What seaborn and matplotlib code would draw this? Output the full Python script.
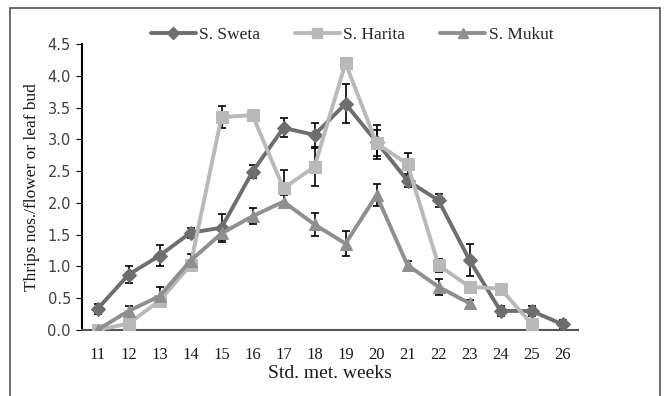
import matplotlib
matplotlib.use("Agg")
import matplotlib.pyplot as plt
import seaborn as sns
import pandas as pd
from matplotlib.lines import Line2D

weeks = list(range(11, 27))
sweta = [0.33, 0.87, 1.17, 1.53, 1.61, 2.49, 3.18, 3.07, 3.56, 2.96, 2.35, 2.04, 1.10, 0.30, 0.30, 0.09]
sweta_err = [0.08, 0.13, 0.16, 0.08, 0.22, 0.10, 0.15, 0.19, 0.31, 0.27, 0.10, 0.10, 0.25, 0.08, 0.08, 0.07]
harita_weeks = list(range(11, 26))
harita = [0.0, 0.10, 0.46, 1.02, 3.35, 3.38, 2.23, 2.57, 4.20, 2.94, 2.61, 1.02, 0.68, 0.65, 0.10]
harita_err = [0.0, 0.0, 0.0, 0.0, 0.17, 0.05, 0.29, 0.30, 0.0, 0.20, 0.18, 0.10, 0.0, 0.0, 0.0]
mukut_weeks = list(range(11, 24))
mukut = [0.0, 0.30, 0.53, 1.09, 1.52, 1.79, 2.02, 1.66, 1.36, 2.12, 1.02, 0.68, 0.42]
mukut_err = [0.0, 0.08, 0.14, 0.10, 0.10, 0.13, 0.10, 0.18, 0.20, 0.17, 0.07, 0.13, 0.05]

series = [
    ("S. Sweta", weeks, sweta, sweta_err, "#6e6e6e", "D", 7),
    ("S. Harita", harita_weeks, harita, harita_err, "#b9b9b9", "s", 9),
    ("S. Mukut", mukut_weeks, mukut, mukut_err, "#8f8f8f", "^", 9),
]

sns.set_theme(style="white")
plt.rcParams['font.family'] = ['Liberation Serif', 'DejaVu Serif']

fig = plt.figure(figsize=(6.64, 3.96), dpi=100)
ax = fig.add_axes([82/664, 1-330/396, (578-82)/664, (330-44)/396])

for name, xs, ys, errs, color, marker, ms in series:
    ax.errorbar(xs, ys, yerr=errs, fmt='none', ecolor='black', elinewidth=1.2,
                capsize=3, capthick=1.2, zorder=2)

for i, (name, xs, ys, errs, color, marker, ms) in enumerate(series):
    df = pd.DataFrame({"week": xs, "val": ys})
    sns.lineplot(data=df, x="week", y="val", ax=ax, color=color, linewidth=2.8,
                 marker=marker, markersize=ms, markeredgecolor=color,
                 label=name, zorder=3 + i, legend=False)

ax.set_xlim(10.5, 26.5)
ax.set_ylim(0, 4.5)
ax.set_xticks(weeks)
ax.set_xticklabels([str(w) for w in weeks], fontsize=12)
ax.set_xticks([w + 0.5 for w in range(10, 26)], minor=True)
ax.tick_params(axis='x', which='major', length=0, pad=12, labelcolor='#1a1a1a')
ax.tick_params(axis='x', which='minor', length=4, direction='out', color='#444444', width=0.8)
yt = [0, 0.5, 1, 1.5, 2, 2.5, 3, 3.5, 4, 4.5]
ax.set_yticks(yt)
ax.set_yticklabels([f"{v:.1f}" for v in yt], fontsize=10.5, family='DejaVu Sans')
ax.tick_params(axis='y', length=4, direction='out', color='black', width=0.8, left=True,
               labelcolor='#404040', pad=4)
for s in ['top', 'right']:
    ax.spines[s].set_visible(False)
ax.spines['left'].set_color('black')
ax.spines['left'].set_linewidth(1.5)
ax.spines['bottom'].set_color('#555555')
ax.spines['bottom'].set_linewidth(1.5)
ax.grid(False)

ax.set_xlabel("Std. met. weeks", fontsize=14, labelpad=2, color='#1a1a1a')
ax.set_ylabel("Thrips nos./flower or leaf bud", fontsize=12.5, labelpad=5, color='#1a1a1a')

handles = [Line2D([0], [0], color=c, linewidth=2.8, marker=m, markersize=ms*0.85,
                  markeredgecolor=c) for _, _, _, _, c, m, ms in series]
fig.legend(handles, [s[0] for s in series], loc='center', ncol=3,
           bbox_to_anchor=(352/664, 1-35/396), frameon=False, fontsize=12.5,
           handlelength=2.6, columnspacing=2.0, handletextpad=0.2)

# outer border
bx0, bx1, by1 = 10/664, 660/664, 1-8/396
fig.add_artist(Line2D([bx0, bx1], [by1, by1], color='#555555', linewidth=1.2, transform=fig.transFigure))
fig.add_artist(Line2D([bx0, bx0], [by1, 0], color='#555555', linewidth=1.2, transform=fig.transFigure))
fig.add_artist(Line2D([bx1, bx1], [by1, 0], color='#555555', linewidth=1.2, transform=fig.transFigure))

fig.savefig("out.png", dpi=100)
